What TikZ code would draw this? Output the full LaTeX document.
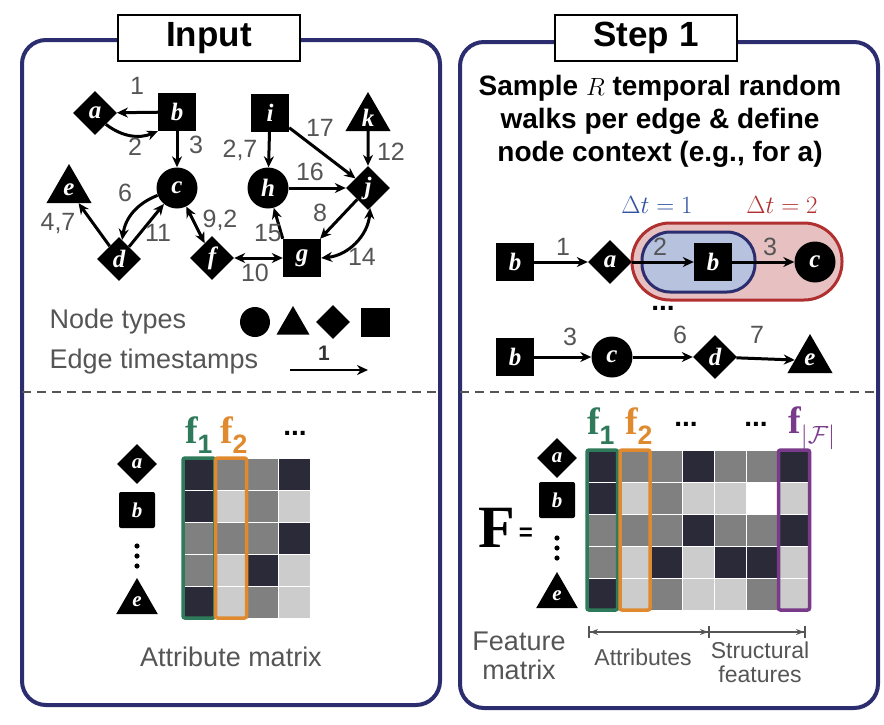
\documentclass[tikz,border=0pt]{standalone}
\usepackage{fontspec}
\setmainfont{Liberation Sans}
\newfontfamily\lserif{Liberation Serif}
\usetikzlibrary{shapes.geometric,arrows.meta,calc}
\definecolor{navy}{HTML}{2B2D6E}
\definecolor{lbl}{HTML}{555555}
\definecolor{dk}{HTML}{2A2A38}
\definecolor{md}{HTML}{808080}
\definecolor{lt}{HTML}{CCCCCC}
\definecolor{wh}{HTML}{FFFFFF}
\definecolor{gr}{HTML}{2E7A5A}
\definecolor{orr}{HTML}{E08A30}
\definecolor{pu}{HTML}{7A3A8A}
\definecolor{bl}{HTML}{3050A0}
\definecolor{rd}{HTML}{B03030}
\begin{document}
\begin{tikzpicture}[x=1pt,y=-1pt,
 nd/.style={fill=black,text=white,inner sep=0,font=\lserif\bfseries\itshape\fontsize{25}{25}\selectfont},
 sq/.style={nd,rectangle,minimum size=38},
 ci/.style={nd,circle,minimum size=41},
 di/.style={nd,diamond,minimum size=44},
 tr/.style={nd,regular polygon,regular polygon sides=3,minimum size=52,text depth=-7pt},
 e/.style={line width=3pt,-{Stealth[length=11pt,width=10pt]}},
 ee/.style={line width=3pt,{Stealth[length=11pt,width=10pt]}-{Stealth[length=11pt,width=10pt]}},
 el/.style={text=lbl,font=\fontsize{25}{25}\selectfont},
 lg/.style={text=lbl,font=\fontsize{27}{27}\selectfont},
 panel/.style={draw=navy,line width=4pt,rounded corners=24pt},
 ttl/.style={draw=black,fill=white,line width=1.6pt,font=\bfseries\fontsize{35}{35}\selectfont,minimum width=182,minimum height=46},
 fl/.style={font=\lserif\bfseries\fontsize{38}{38}\selectfont},
 dots/.style={font=\bfseries\fontsize{28}{28}\selectfont},
 sm/.style={minimum size=36,font=\lserif\bfseries\itshape\fontsize{21}{21}\selectfont},
 cell/.style={draw=white,line width=0.8pt}]
\useasboundingbox (0,0) rectangle (884,724);
\draw[panel] (22,40) rectangle (440,705);
\draw[panel] (460,42) rectangle (878,708);
\node[ttl] (t1) at (209,38) {Input};
\node[ttl] (t2) at (646,38) {Step 1};
\draw[dash pattern=on 9pt off 6pt,line width=2.6pt,lbl] (22,392) -- (440,392);
\draw[dash pattern=on 9pt off 6pt,line width=2.6pt,lbl] (460,392) -- (878,392);
% graph
\node[di] (a) at (95,113) {a};
\node[sq] (b) at (177,112) {b};
\node[ci] (c) at (177,188) {c};
\node[di] (d) at (119,259) {d};
\node[tr] (e) at (69,190) {e};
\node[di] (f) at (212,258) {f};
\node[sq] (g) at (302,258) {g};
\node[ci] (h) at (268,188) {h};
\node[sq] (i) at (270,113) {i};
\node[di] (j) at (368,188) {j};
\node[tr] (k) at (368,118) {k};
\draw[e] (b) -- (a);
\draw[e] (a) to[bend right=30] (b.south west);
\draw[e] (b) -- (c);
\draw[e] (c) to[bend right=30] (d);
\draw[e] (d) -- (c);
\draw[e] (d) -- (e);
\draw[ee] (c) -- (f);
\draw[ee] (f) -- (g);
\draw[e] (g.north west) -- (h);
\draw[e] (h) -- (j);
\draw[e] (i) -- (h);
\draw[e] (i) -- (j);
\draw[e] (k) -- (j);
\draw[e] (j) -- (g);
\draw[ee] (g.east) to[bend right=40] (j);
\node[el] (l1) at (137,86) {1};
\node[el] (l2) at (135,147) {2};
\node[el] (l3) at (196,145) {3};
\node[el] (l6) at (125,193) {6};
\node[el] (l47) at (58,223) {4,7};
\node[el] (l11) at (158,233) {11};
\node[el] (l92) at (220,220) {9,2};
\node[el] (l10) at (255,273) {10};
\node[el] (l15) at (268,233) {15};
\node[el] (l8) at (320,213) {8};
\node[el] (l14) at (362,257) {14};
\node[el] (l16) at (310,172) {16};
\node[el] (l27) at (240,150) {2,7};
\node[el] (l17) at (320,128) {17};
\node[el] (l12) at (391,152) {12};
% legend
\node[lg,anchor=west] (nt) at (46,322) {Node types};
\node[ci,minimum size=30] (lc) at (255,322) {};
\node[tr,minimum size=38] (lt1) at (293,325) {};
\node[di,minimum size=34] (ld) at (333,322) {};
\node[sq,minimum size=29] (ls) at (375,322) {};
\node[lg,anchor=west] (ets) at (46,362) {Edge timestamps};
\coordinate (ea) at (290,370); \coordinate (eb) at (368,370);
\draw[e,line width=2.4pt] (ea) -- (eb);
\node[font=\bfseries\fontsize{21}{21}\selectfont,text=black!80] (e1) at (324,353) {1};
% left matrix
\foreach \r/\row in {0/{dk,md,md,dk},1/{dk,lt,md,lt},2/{md,md,md,dk},3/{md,lt,dk,lt},4/{dk,lt,md,lt}}{
 \foreach \cc [count=\k from 0] in \row {
  \fill[\cc,cell] (183+31.75*\k,458+32*\r) rectangle ++(31.75,32);}}
\draw[gr,line width=3.5pt,rounded corners=2pt] (183,458) rectangle (214.75,618);
\draw[orr,line width=3.5pt,rounded corners=2pt] (215.5,458) rectangle (246.5,618);
\node[text=gr,fl] (f1l) at (199,435) {f$_{\mathbf{1}}$};
\node[text=orr,fl] (f2l) at (234,435) {f$_{\mathbf{2}}$};
\node[dots] (dl) at (295,433) {...};
\node[di,sm,minimum size=40] (ma) at (137,464) {a};
\node[sq,sm,rounded corners=2pt] (mb) at (137,510) {b};
\foreach \yy in {546,556,566} \fill (137,\yy) circle (2.6);
\node[tr,sm,minimum size=48,text depth=-6pt] (me) at (137,602) {e};
\node[lg] (am) at (231,657) {Attribute matrix};
% step 1 text
\node[font=\bfseries\fontsize{28}{28}\selectfont,align=center] (st) at (660,121) {Sample $R$ temporal random\\[5pt]walks per edge \& define\\[5pt]node context (e.g., for a)};
% walks
\fill[rd!30,draw=rd,line width=3pt,rounded corners=38pt] (632,223) rectangle (842,300);
\fill[bl!35,draw=navy,line width=3pt,rounded corners=28pt] (642,232) rectangle (755,292);
\node[text=bl,font=\fontsize{34}{34}\selectfont] (dt1) at (657,205) {$\Delta t = 1$};
\node[text=rd,font=\fontsize{34}{34}\selectfont] (dt2) at (782,205) {$\Delta t = 2$};
\node[sq] (w1) at (515,262) {b};
\node[di] (w2) at (610,262) {a};
\node[sq] (w3) at (713,262) {b};
\node[ci] (w4) at (815,262) {c};
\draw[e] (w1) -- (w2); \draw[e] (w2) -- (w3); \draw[e] (w3) -- (w4);
\node[el] at (563,247) {1};
\node[el] at (660,247) {2};
\node[el] at (770,247) {3};
\node[dots] (wd) at (663,308) {...};
\node[sq] (v1) at (515,357) {b};
\node[ci] (v2) at (612,357) {c};
\node[di] (v3) at (715,357) {d};
\node[tr] (v4) at (810,360) {e};
\draw[e] (v1) -- (v2); \draw[e] (v2) -- (v3); \draw[e] (v3) -- (v4.west);
\node[el] at (570,337) {3};
\node[el] at (680,335) {6};
\node[el] at (757,335) {7};
% right matrix
\foreach \r/\row in {0/{dk,md,md,dk,md,md,dk},1/{dk,lt,md,lt,lt,wh,lt},2/{md,md,md,dk,md,md,dk},3/{md,lt,dk,lt,dk,dk,lt},4/{dk,lt,md,lt,lt,md,lt}}{
 \foreach \cc [count=\k from 0] in \row {
  \fill[\cc,cell] (587+31.86*\k,450+32*\r) rectangle ++(31.86,32);}}
\draw[gr,line width=3.5pt,rounded corners=2pt] (587,450) rectangle (617.5,610);
\draw[orr,line width=3.5pt,rounded corners=2pt] (620,450) rectangle (650,610);
\draw[pu,line width=3.5pt,rounded corners=2pt] (778.5,450) rectangle (809.5,610);
\node[text=gr,fl] (rf1) at (601,426) {f$_{\mathbf{1}}$};
\node[text=orr,fl] (rf2) at (639,426) {f$_{\mathbf{2}}$};
\node[dots] (rd1) at (686,424) {...};
\node[dots] (rd2) at (756,424) {...};
\node[text=pu,fl] (rf3) at (812,428) {f$_{|\mathcal{F}|}$};
\node[font=\lserif\bfseries\fontsize{60}{60}\selectfont] (FF) at (497,528) {F};
\node[font=\bfseries\fontsize{24}{24}\selectfont] (eq) at (526,534) {=};
\node[di,sm,minimum size=40] (ra) at (557,458) {a};
\node[sq,sm,rounded corners=2pt] (rb) at (557,500) {b};
\foreach \yy in {538,548,558} \fill (557,\yy) circle (2.6);
\node[tr,sm,minimum size=48,text depth=-6pt] (re) at (557,596) {e};
\node[lg,align=center] (fm) at (519,656) {Feature\\[2pt]matrix};
\coordinate (p1) at (588,632); \coordinate (p2) at (710,632); \coordinate (p3) at (806,632);
\draw[lbl,line width=2pt,{Bar[width=12pt]Stealth[length=8pt]}-{Stealth[length=8pt]Bar[width=12pt]}] (p1) -- (p2);
\draw[lbl,line width=2pt,-{Stealth[length=8pt]Bar[width=12pt]}] (p2) -- (p3);
\node[text=lbl,font=\fontsize{23}{23}\selectfont] (at) at (643,657) {Attributes};
\node[text=lbl,font=\fontsize{23}{23}\selectfont,align=center] (sf) at (760,662) {Structural\\[1pt]features};
\end{tikzpicture}
\end{document}
